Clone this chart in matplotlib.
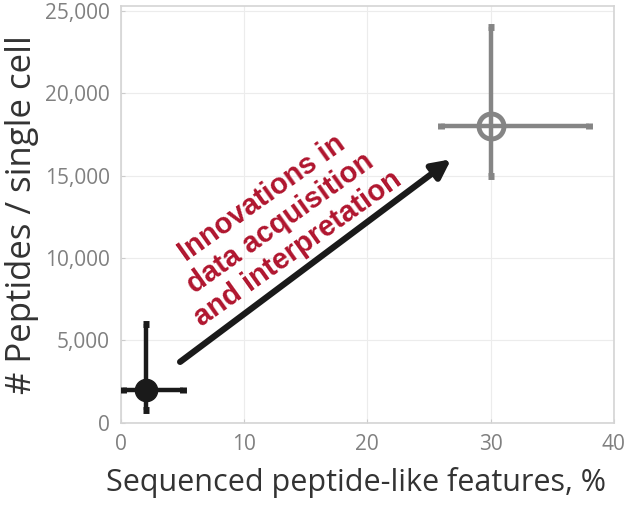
import matplotlib
matplotlib.use("Agg")
import matplotlib.pyplot as plt

plt.rcParams['font.family'] = ['Open Sans', 'DejaVu Sans']

# early single-cell proteomics vs. current state
x_vals = [2, 30]
y_vals = [2000, 18000]
x_lo = [0.2, 26]
x_hi = [5.0, 38]
y_lo = [800, 15000]
y_hi = [6000, 24000]
colors = ['#1a1a1a', '#858585']

arrow_start = (4.8, 3700)
arrow_end = (26.8, 16000)
note = "Innovations in\ndata acquisition\nand interpretation"

fig = plt.figure(figsize=(6.4, 5.07), dpi=100)
ax = fig.add_axes([0.189, 0.166, 0.770, 0.822])

for i in range(len(x_vals)):
    xe = [[x_vals[i] - x_lo[i]], [x_hi[i] - x_vals[i]]]
    ye = [[y_vals[i] - y_lo[i]], [y_hi[i] - y_vals[i]]]
    ax.errorbar([x_vals[i]], [y_vals[i]], xerr=xe, yerr=ye, fmt='none',
                ecolor=colors[i], elinewidth=3.2, capsize=2.5, capthick=5, zorder=3)

ax.plot(x_vals[0], y_vals[0], 'o', ms=16, color=colors[0], zorder=4)
ax.plot(x_vals[1], y_vals[1], 'o', ms=18, mfc='none', mec=colors[1], mew=3.5, zorder=4)

ax.annotate('', xy=arrow_end, xytext=arrow_start,
            arrowprops=dict(arrowstyle='-|>,head_length=1.1,head_width=0.55',
                            color='#1a1a1a', lw=4.5, shrinkA=0, shrinkB=0), zorder=5)
ax.text(12.9, 12100, note, rotation=35.5, ha='center', va='center',
        fontsize=21, fontweight='bold', color='#b0152e', linespacing=1.12,
        rotation_mode='anchor', family=['Liberation Sans', 'DejaVu Sans'])

ax.set_xlim(0, 40)
ax.set_ylim(0, 25300)
ax.set_xticks([0, 10, 20, 30, 40])
ax.set_yticks([0, 5000, 10000, 15000, 20000, 25000])
ax.set_yticklabels(['0', '5,000', '10,000', '15,000', '20,000', '25,000'])
ax.grid(True, color='#ececec', lw=0.8)
ax.set_axisbelow(True)
for s in ax.spines.values():
    s.set_color('#d4d4d4')
    s.set_linewidth(1.2)
ax.tick_params(direction='in', length=3, color='#cccccc', labelsize=15,
               labelcolor='#808080', pad=8)

ax.set_xlabel('Sequenced peptide-like features, %', fontsize=22, color='#333333')
ax.xaxis.set_label_coords(0.477, -0.105)
ax.set_ylabel('# Peptides / single cell', fontsize=25, color='#333333', labelpad=4)

fig.savefig('out.png', dpi=100)
